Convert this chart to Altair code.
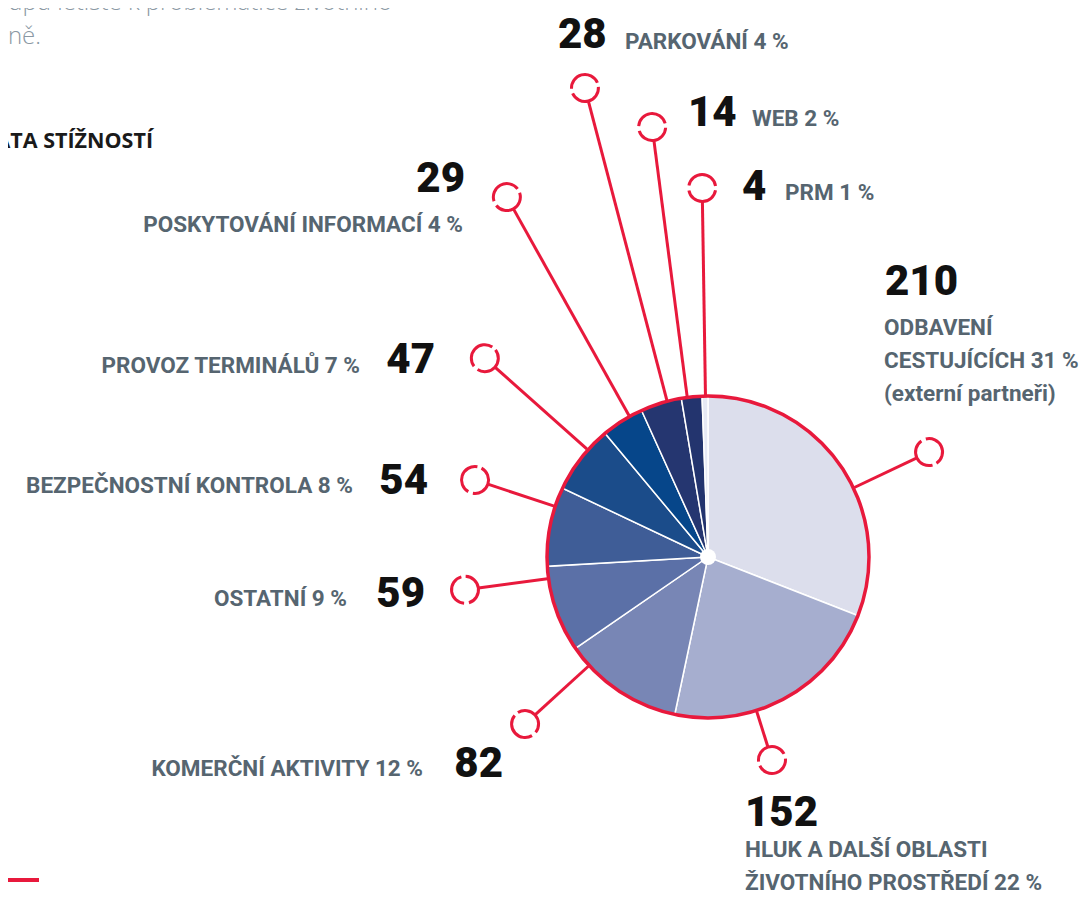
import altair as alt
import pandas as pd

# ---------------- data ----------------
CATEGORIES = [
    "ODBAVENÍ CESTUJÍCÍCH", "HLUK A DALŠÍ OBLASTI ŽIVOTNÍHO PROSTŘEDÍ",
    "KOMERČNÍ AKTIVITY", "OSTATNÍ", "BEZPEČNOSTNÍ KONTROLA", "PROVOZ TERMINÁLŮ",
    "POSKYTOVÁNÍ INFORMACÍ", "PARKOVÁNÍ", "WEB", "PRM",
]
VALUES = [210, 152, 82, 59, 54, 47, 29, 28, 14, 4]
LABEL_HEAD = [
    "ODBAVENÍ\nCESTUJÍCÍCH", "HLUK A DALŠÍ OBLASTI\nŽIVOTNÍHO PROSTŘEDÍ",
    "KOMERČNÍ AKTIVITY", "OSTATNÍ", "BEZPEČNOSTNÍ KONTROLA", "PROVOZ TERMINÁLŮ",
    "POSKYTOVÁNÍ INFORMACÍ", "PARKOVÁNÍ", "WEB", "PRM",
]
LABEL_TAIL = ["\n(externí partneři)", "", "", "", "", "", "", "", "", ""]
COLORS = ["#dcdeec", "#a6aecf", "#7886b5", "#5b70a7", "#3f5d97",
          "#1b4c8a", "#06468a", "#253670", "#23346e", "#e6e9f4"]

# ---------------- layout (annotation placement, screen px) ----------------
LEADER_ANGLE = [64.6, 162.5, 227.6, 262.3, 288.3, 311.7, 330.8, 345.3, 352.6, 359.1]
LEADER_DIST = [244.7, 212.8, 247.7, 245.2, 245.4, 298.9, 412.3, 484.9, 433.6, 369.0]
NUM_X = [885, 745, 503, 425, 428, 435, 465, 558, 688, 742]
NUM_Y = [295, 826, 777, 607, 494, 373, 192, 48, 126, 200]
LAB_X = [884, 745, 423, 347, 353, 360, 463, 625, 752, 785]
LAB_Y = [335, 857, 776, 606, 493, 373, 232, 49, 126, 200]
SIDE = ["left", "left", "right", "right", "right", "right", "right", "left", "left", "left"]

PAGE_TEXT = ["přístupu letiště k problematice životního", "ochraně."]
PAGE_TEXT_X = [392, 41]
PAGE_TEXT_Y = [10, 44]
HEADING = ["DATA STÍŽNOSTÍ"]

CX, CY, R = 708, 557, 162
RING_R = 13.5
RED = "#e8193c"
GREY = "#566570"
W, H = 1071, 889

xs = alt.Scale(domain=[8, 8 + W], nice=False, zero=False)
ys = alt.Scale(domain=[8, 8 + H], nice=False, zero=False, reverse=True)

df = pd.DataFrame({
    "idx": list(range(len(CATEGORIES))),
    "cat": CATEGORIES,
    "value": VALUES,
    "head": LABEL_HEAD,
    "tail": LABEL_TAIL,
    "ang": LEADER_ANGLE,
    "dist": LEADER_DIST,
    "nx": NUM_X, "ny": NUM_Y, "lx": LAB_X, "ly": LAB_Y, "side": SIDE,
})
one = pd.DataFrame({"k": [0]})


def X(f):
    return alt.X(f, type="quantitative", scale=xs, axis=None)


def Y(f):
    return alt.Y(f, type="quantitative", scale=ys, axis=None)


def XD(v):
    return alt.XDatum(v, type="quantitative", scale=xs, axis=None)


def YD(v):
    return alt.YDatum(v, type="quantitative", scale=ys, axis=None)


base = alt.Chart(df)

pie = base.mark_arc(radius=R, stroke="white", strokeWidth=1.5).encode(
    theta=alt.Theta("value:Q", stack=True),
    order=alt.Order("idx:Q", sort="ascending"),
    color=alt.Color("cat:N", scale=alt.Scale(domain=CATEGORIES, range=COLORS), legend=None),
    x=XD(CX), y=YD(CY),
)

outline = alt.Chart(one).mark_point(
    shape="circle", size=(2 * (R - 1)) ** 2, filled=False, color=RED,
    strokeWidth=3.5, opacity=1,
).encode(x=XD(CX), y=YD(CY))

hub = alt.Chart(one).mark_point(
    shape="circle", size=256, filled=True, color="white", opacity=1,
).encode(x=XD(CX), y=YD(CY))

geo = base.transform_calculate(
    rad="datum.ang * PI / 180",
).transform_calculate(
    x1=f"{CX} + {R} * sin(datum.rad)",
    y1=f"{CY} - {R} * cos(datum.rad)",
    x2=f"{CX} + (datum.dist - {RING_R}) * sin(datum.rad)",
    y2=f"{CY} - (datum.dist - {RING_R}) * cos(datum.rad)",
    rx=f"{CX} + datum.dist * sin(datum.rad)",
    ry=f"{CY} - datum.dist * cos(datum.rad)",
)

leaders = geo.mark_rule(color=RED, strokeWidth=3).encode(
    x=X("x1"), y=Y("y1"), x2="x2:Q", y2="y2:Q",
)

circ = 2 * 3.14159265 * RING_R
gap = 5.0
dash = (circ - 2 * gap) / 2
rings = geo.mark_point(
    shape="circle", size=(2 * RING_R) ** 2, filled=False, color=RED,
    strokeWidth=3, opacity=1, strokeDash=[dash, gap], strokeDashOffset=dash + gap / 2,
).encode(
    x=X("rx"), y=Y("ry"), angle=alt.Angle("ang:Q", scale=None),
)

labelled = base.transform_joinaggregate(total="sum(value)").transform_calculate(
    pct="round(datum.value / datum.total * 100)",
    label="datum.head + ' ' + datum.pct + ' %' + datum.tail",
)

layers = [pie, outline, hub, leaders, rings]
for side in ["left", "right"]:
    sub = labelled.transform_filter(f"datum.side == '{side}'")
    layers.append(sub.mark_text(
        align=side, baseline="alphabetic", font="Roboto", fontSize=42,
        fontWeight=900, color="#111111",
    ).encode(x=X("nx"), y=Y("ny"), text="value:N"))
    layers.append(sub.mark_text(
        align=side, baseline="alphabetic", font="Roboto", fontSize=22.5,
        fontWeight="bold", color=GREY, lineBreak="\n", lineHeight=33,
    ).encode(x=X("lx"), y=Y("ly"), text="label:N"))

page = alt.Chart(pd.DataFrame({"t": PAGE_TEXT, "x": PAGE_TEXT_X, "y": PAGE_TEXT_Y})).mark_text(
    align="right", baseline="alphabetic", font="Open Sans", fontSize=24,
    fontWeight=300, color="#8a98a3",
).encode(x=X("x"), y=Y("y"), text="t:N")

heading = alt.Chart(pd.DataFrame({"t": HEADING})).mark_text(
    align="right", baseline="alphabetic", font="Open Sans", fontSize=21.5,
    fontWeight="bold", color="#1a1a1a",
).encode(x=XD(153), y=YD(148), text="t:N")

rule = alt.Chart(one).mark_rule(color=RED, strokeWidth=4).encode(
    x=XD(0), x2=alt.X2Datum(39), y=YD(880),
)

layers += [page, heading, rule]

chart = alt.layer(*layers).properties(
    width=W, height=H, padding=0,
    autosize=alt.AutoSizeParams(type="none"),
).configure_view(stroke=None)

chart.save("out.html", embed_options={"renderer": "svg", "actions": False})
